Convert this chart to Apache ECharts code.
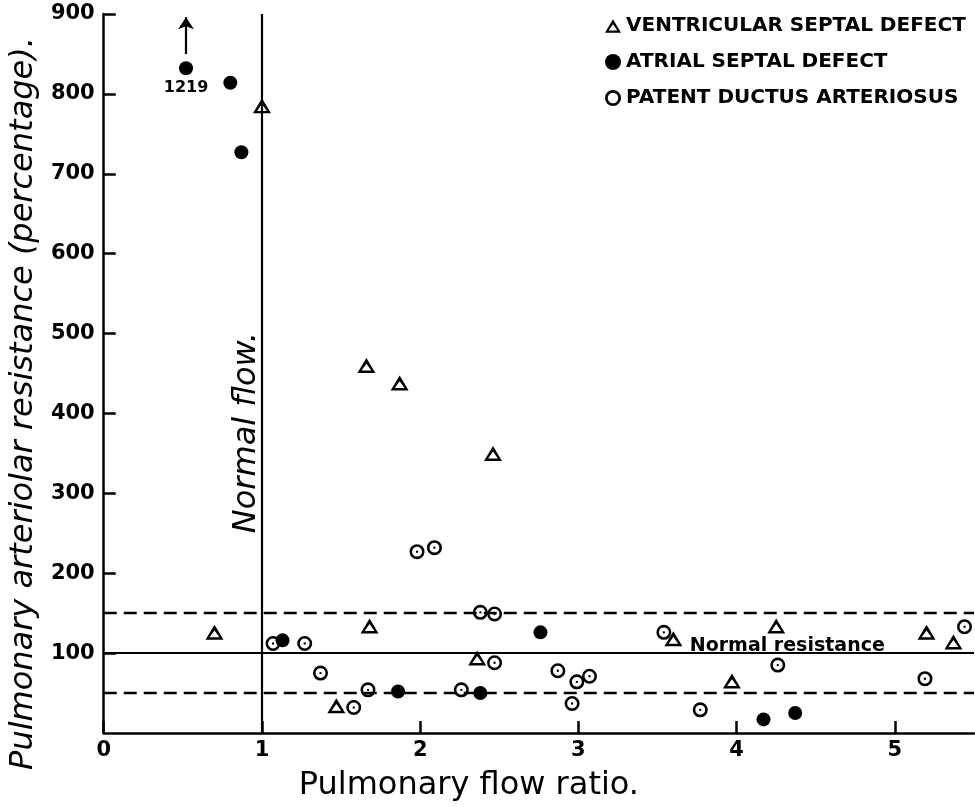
<!DOCTYPE html>
<html>
<head>
<meta charset="utf-8">
<script src="https://cdn.jsdelivr.net/npm/echarts@6/dist/echarts.min.js"></script>
<style>
html,body{margin:0;padding:0;background:#fff;overflow:hidden;}
#chart{width:975px;height:807px;}
</style>
</head>
<body>
<div id="chart"></div>
<script>
// Pulmonary flow ratio (x) vs pulmonary arteriolar resistance % (y)
const vsdX = [1.00, 1.66, 1.87, 2.46, 0.70, 1.68, 1.47, 2.36, 3.60, 3.97, 4.25, 5.20, 5.37];
const vsdY = [785, 460, 438, 350, 126, 134, 34, 94, 118, 65, 134, 126, 114];
const asdX = [0.52, 0.80, 0.87, 1.13, 1.86, 2.38, 2.76, 4.17, 4.37];
const asdY = [832, 814, 727, 116, 52, 50, 126, 17, 25];
const pdaX = [1.98, 2.09, 2.38, 2.47, 1.07, 1.27, 1.37, 1.67, 1.58, 2.26, 2.47, 2.87, 2.99, 3.07, 2.96, 3.54, 3.77, 4.26, 5.19, 5.44];
const pdaY = [227, 232, 151, 149, 112, 112, 75, 54, 32, 54, 88, 78, 64, 71, 37, 126, 29, 85, 68, 133];
const seriesNames = ['VENTRICULAR SEPTAL DEFECT', 'ATRIAL SEPTAL DEFECT', 'PATENT DUCTUS ARTERIOSUS'];
const offScaleValue = '1219';
const normalFlow = 1;
const normalResistance = 100;
const resistanceBand = [50, 150];

const zip = (xs, ys) => xs.map((x, i) => [x, ys[i]]);
const FONT = '"DejaVu Sans", sans-serif';
const ringPath = 'path://M10,0 A10,10 0 1,1 10,20 A10,10 0 1,1 10,0 Z M10,3.4 A6.6,6.6 0 1,0 10,16.6 A6.6,6.6 0 1,0 10,3.4 Z M10,8.4 A1.6,1.6 0 1,1 10,11.6 A1.6,1.6 0 1,1 10,8.4 Z';
const ringLegend = 'path://M10,0 A10,10 0 1,1 10,20 A10,10 0 1,1 10,0 Z M10,3.4 A6.6,6.6 0 1,0 10,16.6 A6.6,6.6 0 1,0 10,3.4 Z';
const triPath = 'path://M10,0 L20,17 L0,17 Z M10,6.4 L4.6,14.2 L15.4,14.2 Z';

const el = document.getElementById('chart');
const chart = echarts.init(el, null, { width: 975, height: 807 });
chart.setOption({
  animation: false,
  backgroundColor: '#fff',
  grid: { left: 100, right: 1, top: 14, bottom: 65 },
  legend: {
    orient: 'vertical', left: 600, top: 11, itemGap: 16,
    itemWidth: 16, itemHeight: 16,
    textStyle: { fontFamily: FONT, fontWeight: 'bold', fontSize: 20, color: '#000' },
    data: [
      { name: seriesNames[0], icon: triPath },
      { name: seriesNames[1], icon: 'circle' },
      { name: seriesNames[2], icon: ringLegend }
    ]
  },
  xAxis: {
    type: 'value', min: 0, max: 5.5, interval: 1,
    name: 'Pulmonary flow ratio.', nameLocation: 'middle', nameGap: 37,
    nameTextStyle: { fontFamily: FONT, fontSize: 32, color: '#000', padding: [0, 140, 0, 0] },
    axisLine: { lineStyle: { color: '#000', width: 2.5 } },
    axisTick: { inside: true, length: 12, lineStyle: { color: '#000', width: 2.5 } },
    axisLabel: { fontFamily: FONT, fontWeight: 'bold', fontSize: 21, color: '#000', margin: 7, showMaxLabel: false,
      formatter: v => (Number.isInteger(v) ? String(v) : '') },
    splitLine: { show: false }
  },
  yAxis: {
    type: 'value', min: 0, max: 900, interval: 100,
    name: 'Pulmonary arteriolar resistance (percentage).', nameLocation: 'middle', nameGap: 62, nameRotate: 90,
    nameTextStyle: { fontFamily: FONT, fontStyle: 'italic', fontSize: 32, color: '#000', padding: [0, 60, 0, 0] },
    axisLine: { show: true, lineStyle: { color: '#000', width: 2.5 } },
    axisTick: { show: true, inside: true, length: 12, lineStyle: { color: '#000', width: 2.5 } },
    axisLabel: { fontFamily: FONT, fontWeight: 'bold', fontSize: 21, color: '#000', margin: 9, showMinLabel: false },
    splitLine: { show: false }
  },
  series: [
    {
      name: seriesNames[0], type: 'scatter', symbol: triPath, symbolSize: [18, 15],
      itemStyle: { color: '#000', opacity: 1 },
      data: zip(vsdX, vsdY),
      markLine: {
        silent: true, symbol: 'none',
        label: { show: false },
        data: [
          { xAxis: normalFlow, lineStyle: { color: '#000', width: 2.2, type: 'solid' } },
          { yAxis: normalResistance, lineStyle: { color: '#000', width: 2.2, type: 'solid' } },
          { yAxis: resistanceBand[0], lineStyle: { color: '#000', width: 2.4, type: [13, 7] } },
          { yAxis: resistanceBand[1], lineStyle: { color: '#000', width: 2.4, type: [13, 7] } }
        ]
      },
      markPoint: {
        silent: true, symbol: 'circle', symbolSize: 0,
        data: [
          { coord: [4.32, normalResistance], label: { show: true, formatter: 'Normal resistance', position: 'top', distance: -2,
            fontFamily: FONT, fontWeight: 'bold', fontSize: 19, color: '#000' } },
          { coord: [normalFlow, 376], label: { show: true, formatter: 'Normal flow.', position: 'inside', offset: [0, -15], rotate: 90,
            fontFamily: FONT, fontStyle: 'italic', fontSize: 32, color: '#000' } }
        ]
      }
    },
    {
      name: seriesNames[1], type: 'scatter', symbol: 'circle', symbolSize: 14,
      itemStyle: { color: '#000', opacity: 1 },
      data: zip(asdX, asdY),
      label: { show: true, position: 'bottom', distance: 5, fontFamily: FONT, fontWeight: 'bold', fontSize: 16, color: '#000',
        formatter: p => (p.dataIndex === 0 ? offScaleValue : '') },
      markLine: {
        silent: true, symbol: ['none', 'arrow'], symbolSize: [12, 12],
        label: { show: false },
        lineStyle: { color: '#000', width: 2.2, type: 'solid' },
        data: [[{ coord: [asdX[0], 850] }, { coord: [asdX[0], 896] }]]
      }
    },
    {
      name: seriesNames[2], type: 'scatter', symbol: ringPath, symbolSize: 15,
      itemStyle: { color: '#000', opacity: 1 },
      data: zip(pdaX, pdaY)
    }
  ]
});
</script>
</body>
</html>
